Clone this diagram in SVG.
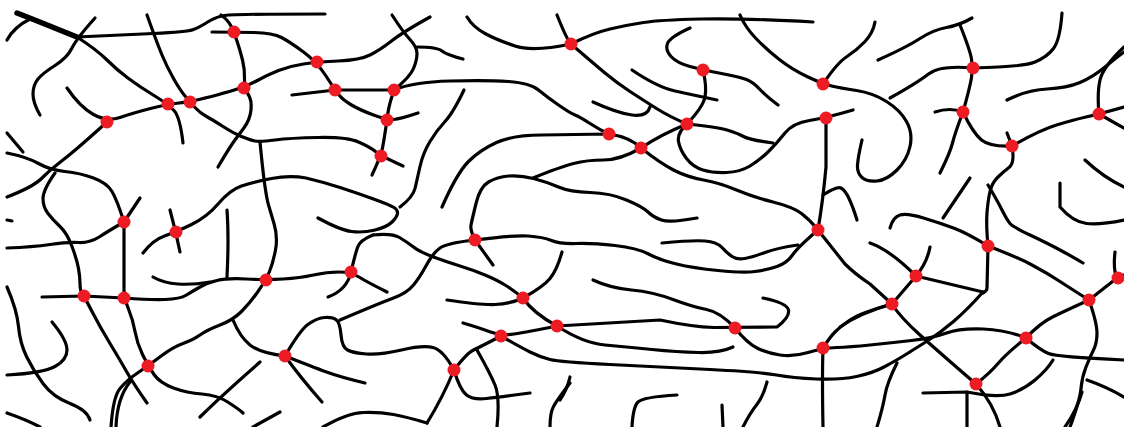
<svg xmlns="http://www.w3.org/2000/svg" width="1124" height="427" viewBox="0 0 1124 427">
<style>
.f{fill:none;stroke:#000;stroke-width:3.2;stroke-linecap:round;stroke-linejoin:round}
.t{fill:none;stroke:#000;stroke-width:5.5;stroke-linecap:round;stroke-linejoin:round}
.x{fill:#ed1c24}
</style>
<rect width="1124" height="427" fill="#fff"/>
<g id="fibers">
<path class="t" d="M17,13 Q40,22 67,33 L77,37"/>
<path class="f" d="M77,37 Q120,35 153.5,33.5 Q187,32 193.5,29.5 Q200,27 208.5,21.5 Q217,16 228.5,15 Q240,14 325,14"/>
<path class="f" d="M7,40 Q14,27 30,19"/>
<path class="f" d="M95,18 Q77,38 72,48 Q67,58 55,65.5 Q43,73 38,79 Q33,85 33,94 Q33,103 40,115"/>
<path class="f" d="M77,37 Q97,50 107,60 Q117,70 128.5,78.5 Q140,87 154,95.5 Q168,104 174,110.5 Q180,117 183,143"/>
<path class="f" d="M147,15 Q157,43 162,55 Q167,67 173.5,78.5 Q180,90 185,96 Q190,102 195,107.5 Q200,113 206.5,116.5 Q213,120 223,126.5 Q233,133 241.5,136.5 Q250,140 255,141 Q260,142 275,140 Q290,138 318.5,137.5 Q347,137 358.5,142 Q370,147 375.5,151.5 Q381,156 403,166"/>
<path class="f" d="M67,88 Q80,107 93.5,114.5 Q107,122 120,117.5 Q133,113 150.5,108.5 Q168,104 179,103 Q190,102 217,95 Q244,88 255.5,81.5 Q267,75 278.5,70.5 Q290,66 303.5,64 Q317,62 338.5,61 Q360,60 370,55 Q380,50 391.5,41 Q403,32 430,17"/>
<path class="f" d="M212,32 Q234,32 253.5,32.5 Q273,33 281.5,37.5 Q290,42 303.5,52 Q317,62 326,76 Q335,90 339,95 Q343,100 351.5,105 Q360,110 373.5,115 Q387,120 393.5,119.5 Q400,119 418,113"/>
<path class="f" d="M221,15 Q228,20 231,26 Q234,32 237,41 Q240,50 242.5,60 Q245,70 244.5,79 Q244,88 248,94 Q252,100 251,110 Q250,120 243.5,128.5 Q237,137 232.5,143.5 Q228,150 218,167"/>
<path class="f" d="M260,142 Q263,173 265,186.5 Q267,200 268.5,205 Q270,210 274,223.5 Q278,237 275.5,250 Q273,263 269.5,271.5 Q266,280 258,291.5 Q250,303 241.5,311.5 Q233,320 220,325 Q207,330 200,335 Q193,340 183,343.5 Q173,347 160.5,356.5 Q148,366 137.5,373 Q127,380 120,388.5 Q113,397 111,427"/>
<path class="f" d="M130,382 Q117,398 116,427"/>
<path class="f" d="M7,133 L23,152"/>
<path class="f" d="M7,153 Q27,157 38.5,163.5 Q50,170 65,171.5 Q80,173 93.5,178 Q107,183 112,191.5 Q117,200 124,222"/>
<path class="f" d="M140,198 L124,222"/>
<path class="f" d="M124,222 Q110,230 100,236.5 Q90,243 78.5,242.5 Q67,242 50,244.5 Q33,247 7,248"/>
<path class="f" d="M124,222 L124,290 Q124,298 128.5,309 Q133,320 135,331.5 Q137,343 142.5,354.5 Q148,366 154,374.5 Q160,383 173.5,388 Q187,393 202,394 Q217,395 228.5,402.5 Q240,410 243,413"/>
<path class="f" d="M7,197 Q33,187 41.5,178.5 Q50,170 58.5,163.5 Q67,157 77,148.5 Q87,140 107,122"/>
<path class="f" d="M55,173 Q43,190 43,198.5 Q43,207 48,213.5 Q53,220 60,226.5 Q67,233 72,246.5 Q77,260 78.5,268.5 Q80,277 80,283.5 Q80,290 82,293 Q84,296 92,311.5 Q100,327 110,343.5 Q120,360 126.5,371.5 Q133,383 147,403"/>
<path class="f" d="M42,297 L84,296 L124,298 Q150,300 165,299.5 Q180,299 186.5,295 Q193,291 200,287 Q207,283 217,280.5 Q227,278 246.5,279 Q266,280 283,279 Q300,278 313.5,275 Q327,272 339,272 Q351,272 359,277 Q367,282 387,292"/>
<path class="f" d="M153,277 Q163,283 178,284 Q193,285 210,282"/>
<path class="f" d="M227,210 Q229,237 227,277"/>
<path class="f" d="M143,253 Q153,240 164.5,236 Q176,232 191.5,224.5 Q207,217 218.5,203.5 Q230,190 241.5,186 Q253,182 271.5,178.5 Q290,175 306,178 Q323,182 340,187.5 Q357,193 373.5,199 Q390,205 394,207.5 Q398,210 397.5,213.5 Q397,217 392,222 Q387,227 375,230 Q363,233 351.5,231.5 Q340,230 318,218"/>
<path class="f" d="M170,210 Q176,232 180,252"/>
<path class="f" d="M351,272 Q355,255 357.5,247.5 Q360,240 373,235"/>
<path class="f" d="M373,235 Q392,233 399.5,237.5 Q407,242 413.5,247 Q420,252 433.5,257 Q447,262 460,266 Q473,270 485,275 Q497,280 505,285 Q513,290 523,298"/>
<path class="f" d="M351,272 Q347,290 328,297"/>
<path class="f" d="M233,320 Q240,337 250,345 Q260,353 285,356"/>
<path class="f" d="M285,356 Q300,330 308.5,324 Q317,318 325,317.5 Q333,317 336.5,320 Q340,323 341,335 Q342,347 347.5,350 Q353,353 366.5,354 Q380,355 401.5,350 Q423,345 433,347.5 Q443,350 454,370"/>
<path class="f" d="M285,356 Q313,367 326.5,372 Q340,377 365,383"/>
<path class="f" d="M285,356 Q300,377 322,402"/>
<path class="f" d="M7,287 Q17,310 18.5,326.5 Q20,343 26.5,356.5 Q33,370 43,383.5 Q53,397 70,403.5 Q87,410 90,420"/>
<path class="f" d="M52,322 Q67,340 67,350 Q67,360 55,366.5 Q43,373 7,375"/>
<path class="f" d="M7,413 Q27,420 40,427"/>
<path class="f" d="M200,417 Q220,397 260,362"/>
<path class="f" d="M280,412 L253,427"/>
<path class="f" d="M7,220 L12,221"/>
<path class="f" d="M340,320 Q380,303 393.5,298 Q407,293 413.5,285 Q420,277 426.5,265 Q433,253 440,248 Q447,243 475,240"/>
<path class="f" d="M392,15 Q403,32 410,39.5 Q417,47 417,53.5 Q417,60 413.5,68.5 Q410,77 394,90"/>
<path class="f" d="M417,47 Q437,47 442,51 Q447,55 463,59"/>
<path class="f" d="M292,95 L335,90 L394,90 Q413,82 450,81 Q487,80 508.5,81.5 Q530,83 538.5,90 Q547,97 558.5,105 Q570,113 575,115 Q580,117 590,123.5 Q600,130 609,134"/>
<path class="f" d="M394,90 Q389,105 388,112.5 Q387,120 385.5,130 Q384,140 382.5,148 Q381,156 372,175"/>
<path class="f" d="M467,17 Q473,27 485,33.5 Q497,40 515,46 Q533,52 571,44"/>
<path class="f" d="M557,15 Q567,40 571,44"/>
<path class="f" d="M464,90 Q453,113 445,121.5 Q437,130 430,141.5 Q423,153 420,166.5 Q417,180 415,188.5 Q413,197 400,207"/>
<path class="f" d="M442,207 Q457,173 468.5,161.5 Q480,150 496.5,142.5 Q513,135 541.5,135 L609,134 Q630,137 641,148"/>
<path class="f" d="M697,218 Q670,223 661.5,220 Q653,217 648,212 Q643,207 626.5,200 Q610,193 590,192.5 Q570,192 558.5,187 Q547,182 533.5,178.5 Q520,175 508.5,176 Q497,177 488.5,182 Q480,187 476,203.5 Q472,220 471,225 Q470,230 475,240"/>
<path class="f" d="M533,178 Q560,167 573.5,163.5 Q587,160 603.5,160 Q620,160 641,148"/>
<path class="f" d="M571,44 Q593,63 605,73 Q617,83 630,91.5 Q643,100 656.5,108.5 Q670,117 687,124"/>
<path class="f" d="M571,44 Q593,33 610,29 Q627,25 643.5,22.5 Q660,20 700,19 Q740,18 813,22"/>
<path class="f" d="M740,15 Q745,27 756,38.5 Q767,50 780,60 Q793,70 808,77 Q823,84 831.5,86 Q840,88 856.5,90.5 Q873,93 886.5,101.5 Q900,110 906.5,121.5 Q913,133 910,146.5 Q907,160 897,170 Q887,180 877,181 Q867,182 862,177.5 Q857,173 857.5,165 Q858,157 862,140"/>
<path class="f" d="M823,84 Q837,63 847,56.5 Q857,50 865,41.5 Q873,33 875,22"/>
<path class="f" d="M690,28 Q670,37 667.5,43.5 Q665,50 671,56.5 Q677,63 690,66.5 Q703,70 721.5,73.5 Q740,77 746.5,79.5 Q753,82 760,89.5 Q767,97 778,105"/>
<path class="f" d="M703,70 Q707,87 705,97 Q703,107 687,124"/>
<path class="f" d="M687,124 Q677,133 678.5,141.5 Q680,150 686.5,158.5 Q693,167 703,170 Q713,173 726.5,172.5 Q740,172 750,166 Q760,160 768.5,151.5 Q777,143 785,133 Q793,123 809.5,120.5 Q826,118 853,110"/>
<path class="f" d="M687,124 Q717,127 727,130 Q737,133 743.5,136.5 Q750,140 773,143"/>
<path class="f" d="M641,148 Q660,135 687,124"/>
<path class="f" d="M641,148 Q660,163 673.5,170 Q687,177 703.5,180 Q720,183 736.5,190 Q753,197 773,202 Q793,207 801.5,213.5 Q810,220 818,230"/>
<path class="f" d="M826,118 L826,167 Q823,200 818,230"/>
<path class="f" d="M823,195 Q837,186 841,188 Q845,190 849,198.5 Q853,207 857,220"/>
<path class="f" d="M593,102 Q617,113 632,115 Q647,117 650,107"/>
<path class="f" d="M632,70 Q657,87 675,91 Q693,95 717,100"/>
<path class="f" d="M662,243 Q693,240 705,241 Q717,242 722,247.5 Q727,253 732,256.5 Q737,260 745,258.5 Q753,257 765,252.5 Q777,248 798,245"/>
<path class="f" d="M475,240 Q513,235 528,236 Q543,237 551.5,240.5 Q560,244 576.5,243.5 Q593,243 615,245.5 Q637,248 648.5,254 Q660,260 676.5,264 Q693,268 718,270.5 Q743,273 755,271.5 Q767,270 777,266.5 Q787,263 792.5,255 Q798,247 818,230"/>
<path class="f" d="M818,230 L845,264 Q855,274 870,284 L892,304"/>
<path class="f" d="M593,280 Q610,288 631.5,290 Q653,292 673,299.5 Q693,307 706.5,309.5 Q720,312 735,328"/>
<path class="f" d="M557,326 L660,320 Q693,327 714,327.5 L777,327 Q790,317 788.5,310 Q787,303 763,298"/>
<path class="f" d="M557,326 Q583,343 605,345 Q627,347 652,349.5 Q677,352 698.5,352.5 Q720,353 733,347"/>
<path class="f" d="M735,328 Q747,343 757,348 Q767,353 780,355 Q793,357 808,352.5 Q823,348 836.5,347.5 Q850,347 870,345 Q890,343 911.5,340.5 Q933,338 946.5,333 Q960,328 983.5,329 Q1007,330 1026,338"/>
<path class="f" d="M823,348 Q830,337 835,332 Q840,327 850,320 Q860,313 892,304"/>
<path class="f" d="M823,348 Q822,377 823,427"/>
<path class="f" d="M501,336 Q520,347 530,352 Q540,357 550,359.5 Q560,362 610,364.5 Q660,367 710,369.5 Q760,372 776.5,375 Q793,378 816.5,379 Q840,380 856.5,376.5 Q873,373 885,366.5 Q897,360 905,355 Q913,350 926.5,341.5 Q940,333 953.5,321.5 Q967,310 983,292"/>
<path class="f" d="M570,377 Q567,390 560,400"/>
<path class="f" d="M677,395 Q643,397 638,402 Q633,407 632,427"/>
<path class="f" d="M722,405 L723,427"/>
<path class="f" d="M767,382 Q763,397 756.5,405 Q750,413 743,427"/>
<path class="f" d="M475,240 L493,265"/>
<path class="f" d="M523,298 Q543,287 550,278.5 Q557,270 562,252"/>
<path class="f" d="M447,300 Q480,305 495,304.5 Q510,304 523,298"/>
<path class="f" d="M523,298 Q533,313 557,326"/>
<path class="f" d="M463,323 Q480,328 490.5,332 Q501,336 514,334 Q527,332 557,326"/>
<path class="f" d="M501,336 Q480,347 473.5,350 Q467,353 454,370"/>
<path class="f" d="M477,350 Q490,373 495,385 Q500,397 497,427"/>
<path class="f" d="M454,370 Q460,390 466.5,395 Q473,400 486.5,398.5 Q500,397 530,393"/>
<path class="f" d="M454,370 Q443,397 427,423"/>
<path class="f" d="M323,427 Q347,413 363.5,412.5 Q380,412 393.5,414.5 Q407,417 427,423"/>
<path class="f" d="M570,383 Q557,400 553.5,406.5 Q550,413 550,427"/>
<path class="f" d="M878,60 Q907,47 920,38.5 Q933,30 946.5,27.5 Q960,25 972,18"/>
<path class="f" d="M960,25 Q970,50 971.5,59 Q973,68 971.5,77.5 Q970,87 963,112"/>
<path class="f" d="M973,68 Q1023,67 1035,62 Q1047,57 1053.5,48.5 Q1060,40 1062,13"/>
<path class="f" d="M890,98 Q917,83 928.5,74 Q940,65 973,68"/>
<path class="f" d="M935,112 Q950,107 963,112"/>
<path class="f" d="M963,112 Q955,133 952.5,143 Q950,153 940,173"/>
<path class="f" d="M963,112 Q973,133 981.5,140 Q990,147 1012,146"/>
<path class="f" d="M1007,133 L1012,146"/>
<path class="f" d="M1012,146 Q1040,130 1056.5,125 Q1073,120 1086,117 Q1099,114 1124,107"/>
<path class="f" d="M1099,114 Q1097,93 1100,80 Q1103,67 1124,47"/>
<path class="f" d="M1007,100 Q1027,90 1047,89 Q1067,88 1080,82.5 Q1093,77 1105,67 Q1117,57 1124,52"/>
<path class="f" d="M1099,114 L1124,128"/>
<path class="f" d="M1012,146 Q1015,163 1009,167.5 Q1003,172 997.5,177.5 Q992,183 990,191.5 Q988,200 987,212.5 Q986,225 988,246"/>
<path class="f" d="M988,185 Q997,200 1002,210 Q1007,220 1010,223.5 Q1013,227 1030,235 Q1047,243 1060,250 Q1073,257 1083,263"/>
<path class="f" d="M890,228 Q893,217 900,215 Q907,213 923.5,218 Q940,223 953.5,228 Q967,233 988,246"/>
<path class="f" d="M943,218 L970,178"/>
<path class="f" d="M1085,160 Q1103,177 1124,187"/>
<path class="f" d="M1060,183 L1060,207 Q1073,222 1086.5,223.5 Q1100,225 1124,220"/>
<path class="f" d="M988,246 L987,288 Q987,291 983,293"/>
<path class="f" d="M988,246 Q1017,257 1032,265 Q1047,273 1060,281.5 Q1073,290 1089,300"/>
<path class="f" d="M1089,300 L1117,278 L1124,275"/>
<path class="f" d="M1115,252 Q1113,270 1117,278"/>
<path class="f" d="M1089,300 Q1097,323 1097,333 Q1097,343 1093.5,350 Q1090,357 1086,367 Q1082,377 1081,388.5 Q1080,400 1070,427"/>
<path class="f" d="M1082,392 Q1077,410 1065,427"/>
<path class="f" d="M1089,300 Q1067,310 1053.5,316.5 Q1040,323 1026,338"/>
<path class="f" d="M1026,338 Q1040,350 1048.5,353.5 Q1057,357 1124,360"/>
<path class="f" d="M1026,338 Q1007,353 998.5,363 Q990,373 976,384"/>
<path class="f" d="M976,384 Q940,353 920,335 Q900,317 892,304"/>
<path class="f" d="M976,384 Q993,403 1000,427"/>
<path class="f" d="M923,393 L967,392 Q997,398 1010,394 Q1023,390 1035,380 Q1047,370 1053,360"/>
<path class="f" d="M967,392 L967,427"/>
<path class="f" d="M870,243 Q890,250 916,276"/>
<path class="f" d="M930,247 Q927,263 916,276"/>
<path class="f" d="M916,276 L983,292"/>
<path class="f" d="M916,276 L892,304"/>
<path class="f" d="M892,304 Q860,313 840,327"/>
<path class="f" d="M897,363 Q887,383 885,395 Q883,407 877,427"/>
<path class="f" d="M1087,380 Q1107,387 1124,397"/>
</g>
<g id="crosslinks">
<circle id="c1" class="x" cx="234" cy="32" r="6.5"/>
<circle id="c2" class="x" cx="317" cy="62" r="6.5"/>
<circle id="c3" class="x" cx="571" cy="44" r="6.5"/>
<circle id="c4" class="x" cx="703" cy="70" r="6.5"/>
<circle id="c5" class="x" cx="823" cy="84" r="6.5"/>
<circle id="c6" class="x" cx="973" cy="68" r="6.5"/>
<circle id="c7" class="x" cx="168" cy="104" r="6.5"/>
<circle id="c8" class="x" cx="190" cy="102" r="6.5"/>
<circle id="c9" class="x" cx="244" cy="88" r="6.5"/>
<circle id="c10" class="x" cx="335" cy="90" r="6.5"/>
<circle id="c11" class="x" cx="394" cy="90" r="6.5"/>
<circle id="c12" class="x" cx="107" cy="122" r="6.5"/>
<circle id="c13" class="x" cx="387" cy="120" r="6.5"/>
<circle id="c14" class="x" cx="609" cy="134" r="6.5"/>
<circle id="c15" class="x" cx="641" cy="148" r="6.5"/>
<circle id="c16" class="x" cx="687" cy="124" r="6.5"/>
<circle id="c17" class="x" cx="826" cy="118" r="6.5"/>
<circle id="c18" class="x" cx="963" cy="112" r="6.5"/>
<circle id="c19" class="x" cx="1099" cy="114" r="6.5"/>
<circle id="c20" class="x" cx="1012" cy="146" r="6.5"/>
<circle id="c21" class="x" cx="381" cy="156" r="6.5"/>
<circle id="c22" class="x" cx="124" cy="222" r="6.5"/>
<circle id="c23" class="x" cx="176" cy="232" r="6.5"/>
<circle id="c24" class="x" cx="475" cy="240" r="6.5"/>
<circle id="c25" class="x" cx="818" cy="230" r="6.5"/>
<circle id="c26" class="x" cx="988" cy="246" r="6.5"/>
<circle id="c27" class="x" cx="351" cy="272" r="6.5"/>
<circle id="c28" class="x" cx="266" cy="280" r="6.5"/>
<circle id="c29" class="x" cx="916" cy="276" r="6.5"/>
<circle id="c30" class="x" cx="1118" cy="278" r="6.5"/>
<circle id="c31" class="x" cx="84" cy="296" r="6.5"/>
<circle id="c32" class="x" cx="124" cy="298" r="6.5"/>
<circle id="c33" class="x" cx="523" cy="298" r="6.5"/>
<circle id="c34" class="x" cx="892" cy="304" r="6.5"/>
<circle id="c35" class="x" cx="1089" cy="300" r="6.5"/>
<circle id="c36" class="x" cx="557" cy="326" r="6.5"/>
<circle id="c37" class="x" cx="735" cy="328" r="6.5"/>
<circle id="c38" class="x" cx="501" cy="336" r="6.5"/>
<circle id="c39" class="x" cx="1026" cy="338" r="6.5"/>
<circle id="c40" class="x" cx="148" cy="366" r="6.5"/>
<circle id="c41" class="x" cx="285" cy="356" r="6.5"/>
<circle id="c42" class="x" cx="823" cy="348" r="6.5"/>
<circle id="c43" class="x" cx="454" cy="370" r="6.5"/>
<circle id="c44" class="x" cx="976" cy="384" r="6.5"/>
</g>
</svg>
